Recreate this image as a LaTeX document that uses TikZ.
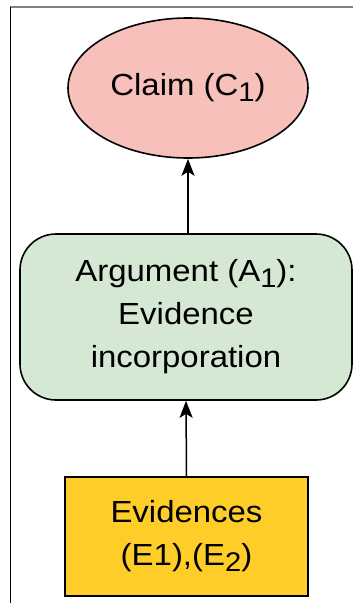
\documentclass[tikz,border=0pt]{standalone}
\usepackage{fontspec}
\setmainfont{Liberation Sans}[FakeStretch=1.08]
\usetikzlibrary{arrows.meta,shapes.geometric}
\definecolor{claimfill}{HTML}{F8C0BA}
\definecolor{argfill}{HTML}{D5E8D4}
\definecolor{evfill}{HTML}{FFCD28}
\definecolor{framegray}{HTML}{808080}
% lowered index digit, as in C1, A1, E2
\newcommand{\lowsub}[1]{\raisebox{-6pt}{\fontsize{27}{27}\selectfont #1}}
\begin{document}
\begin{tikzpicture}[x=1pt,y=-1pt,
  every node/.style={font=\fontsize{30.5}{43}\selectfont, align=center, text=black},
  shape line/.style={draw=black, line width=1.6pt},
  link/.style={-{Stealth[length=17pt,width=13pt,inset=4pt]}, line width=1.5pt}]
\useasboundingbox (0,0) rectangle (353,603);
% frame edges
\draw[line width=2pt, framegray] (10,7) -- (353,7);
\draw[line width=1.5pt] (10.5,7) -- (10.5,603);
% nodes
\node[ellipse, shape line, fill=claimfill, minimum width=240pt, minimum height=140pt, inner sep=0pt]
  (claim) at (188,88) {Claim (C\lowsub{1})};
\node[rectangle, rounded corners=36pt, shape line, fill=argfill, minimum width=332pt, minimum height=166pt, inner sep=0pt]
  (argument) at (186,317) {Argument (A\lowsub{1}):\\Evidence\\incorporation};
\node[rectangle, shape line, fill=evfill, minimum width=243pt, minimum height=119pt, inner sep=0pt]
  (evid) at (186.5,536.5) {Evidences\\(E1),(E\lowsub{2})};
% connectors
\draw[link] (argument.north -| claim.south) -- (claim.south);
\draw[link] (evid.north) -- (argument.south);
\end{tikzpicture}
\end{document}
